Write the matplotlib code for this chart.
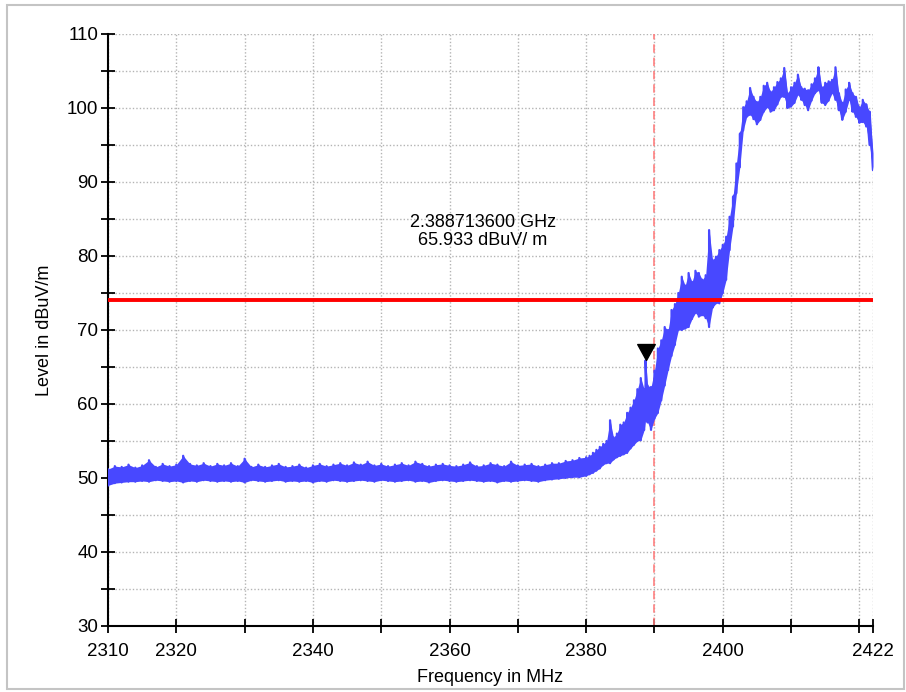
import numpy as np
import matplotlib
matplotlib.use("Agg")
import matplotlib.pyplot as plt
from matplotlib.patches import Rectangle

freq = [2310, 2311, 2312, 2313, 2314, 2315, 2316, 2317, 2318, 2319,
        2320, 2321, 2322, 2323, 2324, 2325, 2326, 2327, 2328, 2329,
        2330, 2331, 2332, 2333, 2334, 2335, 2336, 2337, 2338, 2339,
        2340, 2341, 2342, 2343, 2344, 2345, 2346, 2347, 2348, 2349,
        2350, 2351, 2352, 2353, 2354, 2355, 2356, 2357, 2358, 2359,
        2360, 2361, 2362, 2363, 2364, 2365, 2366, 2367, 2368, 2369,
        2370, 2371, 2372, 2373, 2374, 2375, 2376, 2377, 2378, 2379,
        2380, 2380.5, 2381, 2381.5, 2382, 2382.5, 2383, 2383.5, 2384, 2384.5,
        2385, 2385.5, 2386, 2386.5, 2387, 2387.5, 2388, 2388.5, 2388.7, 2389,
        2389.5, 2390, 2390.5, 2391, 2391.5, 2392, 2392.5, 2393, 2393.5, 2394,
        2394.5, 2395, 2395.5, 2396, 2396.5, 2397, 2397.5, 2398, 2398.5, 2399,
        2399.5, 2400, 2400.5, 2401, 2401.5, 2402, 2402.5, 2403, 2403.5, 2404,
        2404.5, 2405, 2405.5, 2406, 2406.5, 2407, 2407.5, 2408, 2408.5, 2409,
        2409.5, 2410, 2410.5, 2411, 2411.5, 2412, 2412.5, 2413, 2413.5, 2414,
        2414.5, 2415, 2415.5, 2416, 2416.5, 2417, 2417.5, 2418, 2418.5, 2419,
        2419.5, 2420, 2420.5, 2421, 2421.5, 2422]
level_lo = [49.0, 49.3, 49.4, 49.5, 49.5, 49.6, 49.5, 49.7, 49.6, 49.5,
            49.6, 49.4, 49.6, 49.5, 49.7, 49.6, 49.5, 49.6, 49.5, 49.6,
            49.4, 49.7, 49.6, 49.5, 49.6, 49.7, 49.5, 49.6, 49.5, 49.6,
            49.4, 49.6, 49.5, 49.7, 49.6, 49.5, 49.6, 49.7, 49.6, 49.5,
            49.7, 49.6, 49.5, 49.6, 49.7, 49.5, 49.6, 49.4, 49.6, 49.7,
            49.6, 49.5, 49.6, 49.7, 49.6, 49.5, 49.6, 49.4, 49.6, 49.5,
            49.6, 49.7, 49.6, 49.5, 49.7, 49.8, 49.9, 50.0, 50.1, 50.1,
            50.3, 50.5, 50.7, 51.0, 51.3, 51.8, 52.0, 52.0, 52.5, 52.8,
            53.0, 53.2, 53.4, 54.0, 54.5, 55.0, 55.1, 56.5, 57.8, 57.5,
            56.5, 58.0, 58.8, 60.5, 62.5, 64.6, 66.5, 68.0, 70.0, 70.0,
            70.2, 70.4, 71.5, 72.3, 71.8, 72.0, 71.6, 70.4, 73.0, 73.6,
            73.6, 75.0, 76.8, 80.8, 84.0, 88.5, 92.0, 97.0, 98.8, 99.1,
            98.5, 97.8, 98.4, 99.5, 100.1, 99.5, 99.7, 100.5, 101.5, 101.5,
            100.0, 100.2, 100.7, 101.8, 101.1, 100.4, 99.7, 101.0, 102.0, 102.4,
            100.7, 100.4, 101.0, 102.0, 101.1, 99.7, 98.4, 99.5, 101.1, 99.5,
            98.8, 98.0, 98.1, 97.5, 95.0, 91.6]
level_hi = [51.2, 51.6, 51.5, 51.8, 51.4, 51.7, 52.4, 51.5, 51.9, 51.6,
            51.8, 53.0, 51.9, 51.7, 52.0, 51.6, 51.9, 51.7, 52.0, 51.6,
            52.6, 51.5, 51.8, 51.5, 51.7, 51.9, 51.5, 51.6, 51.8, 51.4,
            51.7, 51.9, 51.6, 51.8, 52.0, 51.7, 52.1, 51.8, 52.2, 51.7,
            51.9, 51.6, 51.8, 52.0, 51.7, 52.2, 51.9, 51.6, 51.8, 51.9,
            51.7, 51.6, 51.8, 52.1, 51.6, 51.7, 52.0, 51.8, 51.6, 52.2,
            51.7, 51.8, 51.9, 51.6, 51.8, 52.0, 52.0, 52.3, 52.4, 52.7,
            52.8, 53.0, 53.4, 53.8, 54.2, 54.6, 55.0, 57.8, 55.5, 56.0,
            57.2, 57.5, 58.8, 59.5, 60.5, 62.0, 63.5, 62.0, 65.9, 62.5,
            62.3, 64.5, 67.5, 68.6, 70.4, 70.0, 72.7, 73.5, 75.0, 77.2,
            76.0, 77.7, 76.5, 78.0, 77.7, 76.8, 77.4, 83.5, 79.5, 79.9,
            80.8, 81.5, 82.6, 85.3, 88.0, 92.5, 96.5, 100.1, 100.9, 102.7,
            101.5, 100.8, 101.5, 103.0, 103.4, 102.2, 102.8, 103.5, 104.0, 105.4,
            102.0, 102.8, 103.4, 104.5, 102.8, 102.6, 102.4, 103.2, 104.0, 105.5,
            102.8, 103.4, 103.6, 103.8, 105.5, 102.0, 100.7, 102.5, 103.4, 102.0,
            101.5, 100.1, 101.1, 100.5, 99.5, 93.9]

limit_level = 74
marker_freq = 2388.7136
marker_level = 65.933
marker_text = "2.388713600 GHz\n65.933 dBuV/ m"
x_ticks = [2310, 2320, 2330, 2340, 2350, 2360, 2370, 2380, 2390, 2400, 2410, 2420, 2422]
x_labels = ["2310", "2320", "", "2340", "", "2360", "", "2380", "", "2400", "", "", "2422"]
y_ticks = [30, 35, 40, 45, 50, 55, 60, 65, 70, 75, 80, 85, 90, 95, 100, 105, 110]
y_labels = ["30", "", "40", "", "50", "", "60", "", "70", "", "80", "", "90", "", "100", "", "110"]

plt.rcParams['font.family'] = ['Liberation Sans', 'DejaVu Sans']

fig = plt.figure(figsize=(9.06, 6.92), dpi=100)
ax = fig.add_axes([0.1192, 0.0954, 0.8444, 0.8555])

# light frame round the whole picture
fig.patches.append(Rectangle((0.008, 0.004), 0.99, 0.989, transform=fig.transFigure,
                             fill=False, edgecolor='#c4c4c4', linewidth=1.5))

# interleave min/max so the trace zigzags like the analyzer output
f = np.repeat(freq, 2)
lv = np.column_stack([level_lo, level_hi]).ravel()
ax.fill_between(freq, level_lo, level_hi, color='#4848ff', linewidth=0, zorder=3)
ax.plot(f, lv, color='#4848ff', linewidth=1.6, zorder=3)

ax.axhline(limit_level, color='#ff0000', linewidth=2.8, zorder=4)
ax.axvline(2390, color='#ff8080', linewidth=1.2, linestyle=(0, (5, 3)), zorder=2)

tri = [(0, 0), (-0.55, 1), (0.55, 1), (0, 0)]
ax.plot([marker_freq], [marker_level], marker=tri, markersize=23,
        color='black', linestyle='none', zorder=5, clip_on=False)
ax.text(2364.9, 83.3, marker_text, ha='center', va='center', fontsize=13,
        linespacing=1.1, zorder=6)

ax.set_xlim(2310, 2422)
ax.set_ylim(30, 110)
ax.set_xticks(x_ticks)
ax.set_xticklabels(x_labels)
ax.set_yticks(y_ticks)
ax.set_yticklabels(y_labels)
ax.tick_params(direction='inout', length=10, width=1.3, labelsize=13.5, pad=2)
ax.tick_params(axis='x', pad=7)
ax.grid(True, color='#b4b4b4', linestyle=(0, (1, 1.5)), linewidth=1.0)
ax.set_axisbelow(True)

for s in ['top', 'right']:
    ax.spines[s].set_visible(False)
for s in ['left', 'bottom']:
    ax.spines[s].set_linewidth(1.5)

ax.set_xlabel("Frequency in MHz", fontsize=13, labelpad=7)
ax.set_ylabel("Level in dBuV/m", fontsize=13, labelpad=10)

fig.savefig("out.png", dpi=100)
